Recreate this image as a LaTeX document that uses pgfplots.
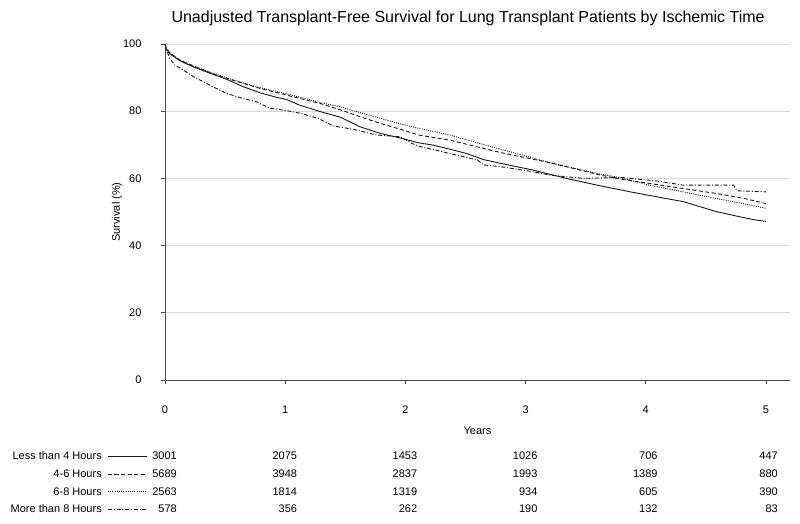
\documentclass[border=0pt]{standalone}
\usepackage{fontspec}
\setmainfont{Liberation Sans}
\usepackage{pgfplots}
\pgfplotsset{compat=1.18}

\pgfplotstableread{
yr s
0 100
0.01 98.6
0.04 97.2
0.125 95.0
0.235 93.2
0.374 91.3
0.513 89.5
0.65 87.3
0.79 85.5
0.93 84.1
1.01 83.5
1.12 81.8
1.29 79.9
1.46 78.2
1.62 75.4
1.79 73.4
1.96 72.0
2.11 70.6
2.23 69.9
2.37 68.7
2.51 67.4
2.65 65.6
2.79 64.5
3.06 62.5
3.34 60.0
3.62 57.8
3.9 55.8
4.17 54.0
4.31 53.1
4.45 51.6
4.59 50.1
4.78 48.6
4.9 47.7
5.0 47.2
}\lessfour

\pgfplotstableread{
yr s
0 100
0.01 98.8
0.04 97.4
0.125 95.2
0.235 93.5
0.374 91.5
0.51 89.8
0.65 88.3
0.79 86.8
1.01 84.8
1.29 82.3
1.46 80.4
1.62 78.4
1.79 76.4
1.96 74.6
2.11 72.9
2.37 71.4
2.79 67.7
3.2 64.7
3.62 61.0
3.79 59.8
4.03 58.5
4.31 57.0
4.59 55.5
4.81 54.1
5.0 52.5
}\foursix

\pgfplotstableread{
yr s
0 100
0.01 98.4
0.04 97.0
0.125 95.0
0.235 93.4
0.374 91.6
0.51 90.0
0.65 88.4
0.79 87.0
1.01 85.2
1.29 82.6
1.46 81.3
1.62 79.6
1.79 77.9
1.96 76.2
2.11 74.9
2.37 72.9
2.79 68.7
3.2 64.7
3.62 61.3
3.79 60.2
4.03 58.0
4.31 56.0
4.59 54.0
4.81 52.5
5.0 51.1
}\sixeight

\pgfplotstableread{
yr s
0 100
0.02 97.5
0.04 95.7
0.08 93.8
0.15 92.3
0.235 90.3
0.37 87.8
0.51 85.3
0.65 83.8
0.76 82.8
0.87 80.9
1.01 80.2
1.15 79.2
1.29 77.6
1.40 75.6
1.57 74.6
1.76 72.9
1.96 72.4
2.05 70.5
2.11 69.6
2.37 67.4
2.6 65.5
2.65 64.0
2.79 63.5
3.06 62.0
3.2 61.0
3.48 60.0
3.79 60.3
4.1 59.2
4.31 58.0
4.73 58.0
4.76 56.3
5.0 56.0
}\moreeight

\begin{document}
\begin{tikzpicture}
\begin{axis}[
  at={(0pt,0pt)}, anchor=south west,
  width=625pt, height=336pt, scale only axis,
  xmin=0, xmax=5.2, ymin=0, ymax=100,
  xtick={0,1,2,3,4,5}, ytick={0,20,40,60,80,100},
  axis x line=bottom, axis y line=left,
  axis line style={-, draw=black!70, line width=0.8pt},
  tick align=outside, major tick length=4pt,
  tick style={draw=black!70, line width=0.8pt},
  ymajorgrids, major grid style={draw=black!15, line width=0.8pt},
  /pgf/number format/assume math mode=true,
  tick label style={font=\fontsize{11}{13}\selectfont},
  xticklabel style={yshift=-18pt},
  yticklabel style={xshift=-16pt},
  xlabel={Years}, ylabel={Survival (\%)},
  label style={font=\fontsize{11}{13}\selectfont},
  xlabel style={at={(axis description cs:0.5,-0.152)}, anchor=center},
  ylabel style={at={(axis description cs:-0.0768,0.5)}, anchor=center},
  clip=false,
  every axis plot/.append style={black!90, line width=0.9pt, no markers},
]
\addplot[solid] table[x=yr,y=s] {\lessfour};
\addplot[dash pattern=on 4pt off 2.5pt] table[x=yr,y=s] {\foursix};
\addplot[dash pattern=on 1pt off 1.2pt] table[x=yr,y=s] {\sixeight};
\addplot[dash pattern=on 4pt off 1.8pt on 1pt off 1.8pt] table[x=yr,y=s] {\moreeight};

\node[font=\fontsize{16}{19}\selectfont] at (axis description cs:0.485,1.077) {Unadjusted Transplant-Free Survival for Lung Transplant Patients by Ischemic Time};

% risk table
\begin{scope}[every node/.style={anchor=east, inner sep=0pt, font=\fontsize{11}{13}\selectfont}]
\node at ([xshift=-63pt,yshift=-76pt]axis cs:0,0) {Less than 4 Hours};
\node at ([xshift=-63pt,yshift=-94pt]axis cs:0,0) {4-6 Hours};
\node at ([xshift=-63pt,yshift=-111.5pt]axis cs:0,0) {6-8 Hours};
\node at ([xshift=-63pt,yshift=-129pt]axis cs:0,0) {More than 8 Hours};
\node at ([xshift=12pt,yshift=-76pt]axis cs:0,0) {3001};
\node at ([xshift=12pt,yshift=-94pt]axis cs:0,0) {5689};
\node at ([xshift=12pt,yshift=-111.5pt]axis cs:0,0) {2563};
\node at ([xshift=12pt,yshift=-129pt]axis cs:0,0) {578};
\node at ([xshift=12pt,yshift=-76pt]axis cs:1,0) {2075};
\node at ([xshift=12pt,yshift=-94pt]axis cs:1,0) {3948};
\node at ([xshift=12pt,yshift=-111.5pt]axis cs:1,0) {1814};
\node at ([xshift=12pt,yshift=-129pt]axis cs:1,0) {356};
\node at ([xshift=12pt,yshift=-76pt]axis cs:2,0) {1453};
\node at ([xshift=12pt,yshift=-94pt]axis cs:2,0) {2837};
\node at ([xshift=12pt,yshift=-111.5pt]axis cs:2,0) {1319};
\node at ([xshift=12pt,yshift=-129pt]axis cs:2,0) {262};
\node at ([xshift=12pt,yshift=-76pt]axis cs:3,0) {1026};
\node at ([xshift=12pt,yshift=-94pt]axis cs:3,0) {1993};
\node at ([xshift=12pt,yshift=-111.5pt]axis cs:3,0) {934};
\node at ([xshift=12pt,yshift=-129pt]axis cs:3,0) {190};
\node at ([xshift=12pt,yshift=-76pt]axis cs:4,0) {706};
\node at ([xshift=12pt,yshift=-94pt]axis cs:4,0) {1389};
\node at ([xshift=12pt,yshift=-111.5pt]axis cs:4,0) {605};
\node at ([xshift=12pt,yshift=-129pt]axis cs:4,0) {132};
\node at ([xshift=12pt,yshift=-76pt]axis cs:5,0) {447};
\node at ([xshift=12pt,yshift=-94pt]axis cs:5,0) {880};
\node at ([xshift=12pt,yshift=-111.5pt]axis cs:5,0) {390};
\node at ([xshift=12pt,yshift=-129pt]axis cs:5,0) {83};
\end{scope}
\end{axis}
% legend line samples
\draw[black!90, line width=0.9pt] (-57pt,-76pt) -- (-18pt,-76pt);
\draw[black!90, line width=0.9pt, dash pattern=on 4pt off 2.5pt] (-57pt,-94pt) -- (-18pt,-94pt);
\draw[black!90, line width=0.9pt, dash pattern=on 1pt off 1.2pt] (-57pt,-111.5pt) -- (-18pt,-111.5pt);
\draw[black!90, line width=0.9pt, dash pattern=on 4pt off 1.8pt on 1pt off 1.8pt] (-57pt,-129pt) -- (-18pt,-129pt);
\pgfresetboundingbox
\path (-165pt,-143pt) rectangle (635pt,380pt);
\end{tikzpicture}
\end{document}
